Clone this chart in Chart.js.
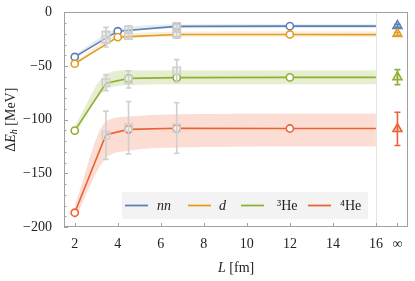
<!DOCTYPE html>
<html><head><meta charset="utf-8">
<script src="https://cdn.jsdelivr.net/npm/chart.js@4/dist/chart.umd.min.js"></script>
<style>html,body{margin:0;padding:0;background:#fff}canvas{display:block}</style>
</head><body>
<canvas id="c" width="415" height="281"></canvas>
<script>
// ---- data ----
const seriesNames = ['nn', 'd', '³He', '⁴He'];
const seriesColors = ['#5E81B5', '#E19C24', '#8FB032', '#EB6235'];

const L_nn = [2, 4, 6.74, 12, 16];
const E_nn = [-41.5, -17.5, -13.0, -12.8, -12.8];
const hi_nn = [-39.5, -15.5, -11.3, -11, -11];
const lo_nn = [-43.5, -19.5, -14.8, -14.6, -14.6];
const circ_nn = [2, 4, 6.74, 12];

const L_d = [2, 4, 6.74, 12, 16];
const E_d = [-47.8, -23.0, -20.6, -20.6, -20.7];
const hi_d = [-45.8, -21.0, -18.0, -17.6, -17.6];
const lo_d = [-49.8, -25.0, -23.0, -23.0, -23.0];
const circ_d = [2, 4, 6.74, 12];

const L_3He = [2, 3.45, 4.5, 6.74, 12, 16];
const E_3He = [-110.2, -66.0, -61.5, -60.8, -60.6, -60.6];
const hi_3He = [-106, -58, -54, -54, -54, -54];
const lo_3He = [-114, -72, -68, -67, -67, -67];
const circ_3He = [2, 4.5, 6.74, 12];

const L_4He = [2, 3.45, 4.5, 6.74, 12, 16];
const E_4He = [-186.7, -114.0, -109.0, -108.0, -108.2, -108.2];
const hi_4He = [-180, -102, -97, -95, -94.5, -94.5];
const lo_4He = [-193, -136, -129, -126, -125, -125];
const circ_4He = [2, 4.5, 6.74, 12];

const greyL = [3.45, 4.5, 6.74];
const greyE_nn = [-21.0, -16.0, -13.0];   const greyErr_nn = [7, 3.5, 1.5];
const greyE_d = [-25.3, -21.5, -20.5];    const greyErr_d = [7, 3.5, 2];
const greyE_3He = [-65.5, -62.5, -54.5];  const greyErr_3He = [7.5, 8, 10.5];
const greyE_4He = [-114.5, -107.5, -107.7]; const greyErr_4He = [22.5, 24.5, 23.5];

const infL = 17;
const infE = [-12.5, -20.0, -60.3, -108.6];
const infErr = [1.5, 1.5, 7, 15.5];

const xTicks = [2, 4, 6, 8, 10, 12, 14, 16, 17];
const xTickLabels = ['2', '4', '6', '8', '10', '12', '14', '16', '∞'];
const yMajorStep = 50, yMinorStep = 10;

// ---- build ----
const series = [
  {L: L_nn, E: E_nn, hi: hi_nn, lo: lo_nn, circ: circ_nn, gE: greyE_nn, gErr: greyErr_nn},
  {L: L_d, E: E_d, hi: hi_d, lo: lo_d, circ: circ_d, gE: greyE_d, gErr: greyErr_d},
  {L: L_3He, E: E_3He, hi: hi_3He, lo: lo_3He, circ: circ_3He, gE: greyE_3He, gErr: greyErr_3He},
  {L: L_4He, E: E_4He, hi: hi_4He, lo: lo_4He, circ: circ_4He, gE: greyE_4He, gErr: greyErr_4He},
];
function alpha(hex, a) {
  const n = parseInt(hex.slice(1), 16);
  return `rgba(${n >> 16},${(n >> 8) & 255},${n & 255},${a})`;
}
const xy = (xs, ys) => xs.map((x, i) => ({x, y: ys[i]}));
const GREY = '#cfcfcf';
const datasets = [];
series.forEach((s, i) => {
  const c = seriesColors[i];
  datasets.push({type: 'line', data: xy(s.L, s.hi), borderWidth: 0, pointRadius: 0, fill: false,
    cubicInterpolationMode: 'monotone', order: 20, borderColor: 'rgba(0,0,0,0)'});
  datasets.push({type: 'line', data: xy(s.L, s.lo), borderWidth: 0, pointRadius: 0, fill: '-1',
    backgroundColor: alpha(c, i < 2 ? 0.16 : 0.22), cubicInterpolationMode: 'monotone', order: 20,
    borderColor: 'rgba(0,0,0,0)'});
});
series.forEach((s, i) => {
  const c = seriesColors[i];
  datasets.push({type: 'line', data: xy(s.L, s.E), borderColor: c, borderWidth: 1.6, fill: false,
    tension: 0, order: 10 - i,
    pointRadius: s.L.map(x => s.circ.includes(x) ? 3.6 : 0),
    pointBorderWidth: 1.6, pointBackgroundColor: '#fff', pointBorderColor: c});
});
series.forEach((s, i) => {
  datasets.push({type: 'scatter', data: xy(greyL, s.gE), pointStyle: 'rect', pointRadius: 5.2,
    pointBorderWidth: 1.5, pointBorderColor: GREY, pointBackgroundColor: 'rgba(225,225,225,0.35)', order: 1});
});
datasets.push({type: 'scatter', data: infE.map(y => ({x: infL, y})), pointStyle: 'triangle',
  pointRadius: 5.2, pointBorderWidth: 1.6, pointBorderColor: seriesColors,
  pointBackgroundColor: seriesColors.map(c => alpha(c, 0.3)), order: 0});

function fmt(v) { return v < 0 ? '\u2212' + Math.abs(v) : String(v); }

const deco = {
  id: 'deco',
  beforeDatasetsDraw(chart) {
    const {ctx, chartArea: a, scales: {x}} = chart;
    ctx.save();
    ctx.strokeStyle = '#e4e4e4'; ctx.lineWidth = 1;
    const px = Math.round(x.getPixelForValue(16)) + 0.5;
    ctx.beginPath(); ctx.moveTo(px, a.top); ctx.lineTo(px, a.bottom); ctx.stroke();
    ctx.restore();
  },
  afterDatasetsDraw(chart) {
    const {ctx, chartArea: a, scales: {x, y}} = chart;
    ctx.save();
    function bar(xv, yv, e, color, w, cap) {
      const px = x.getPixelForValue(xv);
      const y1 = y.getPixelForValue(yv + e), y2 = y.getPixelForValue(yv - e);
      ctx.strokeStyle = color; ctx.lineWidth = w;
      ctx.beginPath();
      ctx.moveTo(px, y1); ctx.lineTo(px, y2);
      ctx.moveTo(px - cap, y1); ctx.lineTo(px + cap, y1);
      ctx.moveTo(px - cap, y2); ctx.lineTo(px + cap, y2);
      ctx.stroke();
    }
    series.forEach(s => greyL.forEach((l, j) => bar(l, s.gE[j], s.gErr[j], GREY, 1.6, 2.8)));
    infE.forEach((v, i) => bar(infL, v, infErr[i], seriesColors[i], 1.6, 3));
    // frame
    ctx.strokeStyle = '#a0a0a0'; ctx.lineWidth = 1;
    ctx.strokeRect(Math.round(a.left) + 0.5, Math.round(a.top) + 0.5,
      Math.round(a.right - a.left) - 1, Math.round(a.bottom - a.top) - 1);
    // ticks
    ctx.beginPath();
    xTicks.forEach(t => {
      const px = Math.round(x.getPixelForValue(t)) + 0.5;
      ctx.moveTo(px, a.bottom); ctx.lineTo(px, a.bottom - 4);
    });
    for (let v = y.min; v <= y.max; v += yMinorStep) {
      const py = Math.round(y.getPixelForValue(v)) + 0.5;
      const len = (v % yMajorStep === 0) ? 4 : 2.5;
      ctx.moveTo(a.left, py); ctx.lineTo(a.left + len, py);
    }
    ctx.stroke();
    // legend
    const bx = 122, by = 192, bw = 246, bh = 27;
    ctx.fillStyle = '#f3f3f3'; ctx.fillRect(bx, by, bw, bh);
    const lineX = [125, 188, 241, 308], textX = [157, 219, 277, 340];
    const cy = by + bh / 2;
    seriesNames.forEach((n, i) => {
      ctx.strokeStyle = seriesColors[i]; ctx.lineWidth = 1.8;
      ctx.beginPath(); ctx.moveTo(lineX[i], cy); ctx.lineTo(lineX[i] + 23, cy); ctx.stroke();
      ctx.fillStyle = '#222';
      ctx.font = (i < 2 ? 'italic ' : '') + '14px "Liberation Serif"';
      ctx.textBaseline = 'middle'; ctx.textAlign = 'left';
      ctx.fillText(n, textX[i], cy + 1);
    });
    // axis titles
    function parts(list, cx, cyy, rot) {
      ctx.save();
      ctx.translate(cx, cyy); ctx.rotate(rot);
      let tot = 0;
      list.forEach(p => { ctx.font = p.f; p.w = ctx.measureText(p.t).width; tot += p.w; });
      let xx = -tot / 2;
      ctx.fillStyle = '#222'; ctx.textBaseline = 'middle'; ctx.textAlign = 'left';
      list.forEach(p => { ctx.font = p.f; ctx.fillText(p.t, xx, p.dy || 0); xx += p.w; });
      ctx.restore();
    }
    parts([{t: 'L', f: 'italic 14px "Liberation Serif"'}, {t: ' [fm]', f: '14px "Liberation Serif"'}],
      (a.left + a.right) / 2, 268, 0);
    parts([{t: 'Δ', f: '14px "Liberation Serif"'}, {t: 'E', f: 'italic 14px "Liberation Serif"'},
      {t: 'h', f: 'italic 10px "Liberation Serif"', dy: 3}, {t: ' [MeV]', f: '14px "Liberation Serif"'}],
      11, (a.top + a.bottom) / 2, -Math.PI / 2);
    ctx.restore();
  }
};

new Chart(document.getElementById('c'), {
  data: {datasets},
  options: {
    responsive: false, animation: false, devicePixelRatio: 1,
    layout: {padding: {top: 11, right: 2, left: 0, bottom: 0}},
    plugins: {legend: {display: false}, tooltip: {enabled: false}},
    scales: {
      x: {type: 'linear', min: 1.5, max: 17.5,
        afterBuildTicks: s => { s.ticks = xTicks.map(v => ({value: v})); },
        afterFit: s => { s.height = 54; },
        grid: {display: false}, border: {display: false},
        ticks: {padding: 1, color: '#222', font: {family: 'Liberation Serif', size: 14},
          maxRotation: 0, autoSkip: false,
          callback: v => xTickLabels[xTicks.indexOf(v)]}},
      y: {type: 'linear', min: -200, max: 0,
        afterFit: s => { s.width = 64; },
        grid: {display: false}, border: {display: false},
        ticks: {stepSize: yMinorStep, autoSkip: false, padding: 4, color: '#222',
          font: {family: 'Liberation Serif', size: 14},
          callback: v => (v % yMajorStep === 0 ? fmt(v) : '')}}
    }
  },
  plugins: [deco]
});
</script>
</body></html>
